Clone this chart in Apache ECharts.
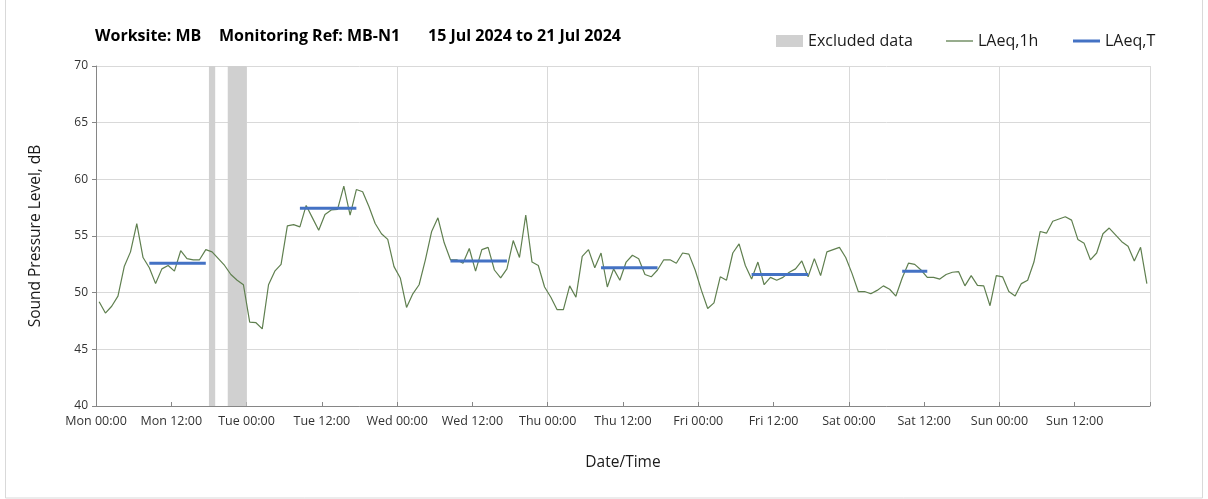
<!DOCTYPE html>
<html>
<head>
<meta charset="utf-8">
<script src="https://cdn.jsdelivr.net/npm/echarts@6/dist/echarts.min.js"></script>
<style>
html,body{margin:0;padding:0;background:#fff;}
#chart{width:1208px;height:499px;}
</style>
</head>
<body>
<div id="chart"></div>
<script>
// Hourly LAeq,1h values (dB), Mon 00:00 .. Sun 23:00
var laeq1hMon = [49.2,48.2,48.8,49.7,52.3,53.6,56.1,53.1,52.2,50.8,52.1,52.4,51.9,53.7,53.0,52.9,52.9,53.8,53.6,53.0,52.4,51.6,51.1,50.7];
var laeq1hTue = [47.4,47.35,46.8,50.7,51.9,52.5,55.9,56.0,55.8,57.7,56.6,55.5,56.9,57.3,57.35,59.4,56.85,59.1,58.9,57.6,56.1,55.2,54.7,52.3];
var laeq1hWed = [51.3,48.7,49.9,50.7,52.9,55.4,56.6,54.4,52.9,52.9,52.6,53.9,51.9,53.8,54.0,52.0,51.3,52.1,54.6,53.1,56.85,52.7,52.4,50.5];
var laeq1hThu = [49.6,48.5,48.5,50.6,49.6,53.2,53.8,52.2,53.5,50.5,52.1,51.1,52.7,53.3,53.0,51.6,51.4,52.0,52.9,52.9,52.6,53.5,53.4,52.0];
var laeq1hFri = [50.2,48.6,49.1,51.4,51.1,53.5,54.3,52.4,51.2,52.7,50.7,51.35,51.1,51.35,51.8,52.1,52.8,51.4,53.0,51.5,53.6,53.8,54.0,53.1];
var laeq1hSat = [51.7,50.1,50.1,49.9,50.2,50.6,50.3,49.7,51.3,52.6,52.5,52.0,51.35,51.35,51.2,51.6,51.8,51.85,50.6,51.5,50.65,50.6,48.85,51.5];
var laeq1hSun = [51.4,50.1,49.7,50.8,51.1,52.7,55.4,55.25,56.3,56.5,56.7,56.4,54.7,54.35,52.9,53.5,55.2,55.7,55.1,54.5,54.1,52.8,54.0,50.8];

// LAeq,T periods: first and last hour index, and level
var periodStartHour = [8, 32, 56, 80, 104, 128];
var periodEndHour   = [17, 41, 65, 89, 113, 132];
var periodLevel     = [52.6, 57.45, 52.8, 52.2, 51.6, 51.9];

// Excluded data (hours from Mon 00:00)
var excludedStart = [18, 21];
var excludedEnd   = [19, 24];

// Axis tick labels (every 12 h)
var xTickLabels = ['Mon 00:00','Mon 12:00','Tue 00:00','Tue 12:00','Wed 00:00','Wed 12:00','Thu 00:00','Thu 12:00','Fri 00:00','Fri 12:00','Sat 00:00','Sat 12:00','Sun 00:00','Sun 12:00',''];

var titleParts = ['Worksite: MB', 'Monitoring Ref: MB-N1', '15 Jul 2024 to 21 Jul 2024'];
var legendNames = ['Excluded data', 'LAeq,1h', 'LAeq,T'];

var hourly = [].concat(laeq1hMon, laeq1hTue, laeq1hWed, laeq1hThu, laeq1hFri, laeq1hSat, laeq1hSun);
var hourlyData = hourly.map(function (v, i) { return [i + 0.5, v]; });

var FONT = 'Open Sans';
var series = [];

series.push({
  name: legendNames[0], type: 'line', data: [], z: 1,
  color: '#d0d0d0', itemStyle: { color: '#d0d0d0' }, symbol: 'none',
  markArea: {
    silent: true,
    itemStyle: { color: '#d0d0d0' },
    data: excludedStart.map(function (s, i) { return [{ xAxis: s }, { xAxis: excludedEnd[i] }]; })
  }
});

series.push({
  name: legendNames[1], type: 'line', data: hourlyData, z: 3,
  symbol: 'none', color: '#5f7f4f',
  lineStyle: { color: '#5f7f4f', width: 1.2 }
});

periodStartHour.forEach(function (s, i) {
  series.push({
    name: legendNames[2], type: 'line', z: 4, symbol: 'none', color: '#4472c4',
    lineStyle: { color: '#4472c4', width: 3 },
    data: [[s + 0.5, periodLevel[i]], [periodEndHour[i] + 0.5, periodLevel[i]]]
  });
});

function legendItem(name, left, h) {
  return {
    left: left, top: 33, padding: 0, itemWidth: 27, itemHeight: h,
    icon: 'rect', selectedMode: false,
    textStyle: { fontFamily: FONT, fontSize: 16, color: '#1a1a1a' },
    data: [name]
  };
}

var chart = echarts.init(document.getElementById('chart'), null, { renderer: 'canvas' });
chart.setOption({
  animation: false,
  textStyle: { fontFamily: FONT },
  grid: { left: 96, right: 58, top: 66, bottom: 93 },
  legend: [
    legendItem(legendNames[0], 776, 12),
    legendItem(legendNames[1], 946, 1.3),
    legendItem(legendNames[2], 1073, 3)
  ],
  graphic: [
    { type: 'rect', silent: true, shape: { x: 5.5, y: -2, width: 1197, height: 500 },
      style: { fill: 'none', stroke: '#d9d9d9', lineWidth: 1 } },
    { type: 'text', left: 95, top: 28, style: { text: titleParts[0], font: 'bold 16px "Open Sans"', fill: '#000' } },
    { type: 'text', left: 219, top: 28, style: { text: titleParts[1], font: 'bold 16px "Open Sans"', fill: '#000' } },
    { type: 'text', left: 428, top: 28, style: { text: titleParts[2], font: 'bold 16px "Open Sans"', fill: '#000' } }
  ],
  xAxis: [{
    type: 'value', min: 0, max: 168, interval: 12,
    name: 'Date/Time', nameLocation: 'middle', nameGap: 49,
    nameTextStyle: { fontSize: 15.5, color: '#1a1a1a', fontFamily: FONT },
    axisLine: { lineStyle: { color: '#868686' } },
    axisTick: { inside: true, length: 4, lineStyle: { color: '#868686' } },
    axisLabel: { fontSize: 12.5, color: '#333', margin: 9, fontFamily: FONT,
      formatter: function (v) { return xTickLabels[Math.round(v / 12)] || ''; } },
    splitLine: { show: false }
  }, {
    type: 'value', min: 0, max: 168, interval: 24, position: 'bottom',
    axisLine: { show: false }, axisTick: { show: false }, axisLabel: { show: false },
    splitLine: { show: true, lineStyle: { color: '#d9d9d9', width: 1 } }
  }],
  yAxis: {
    type: 'value', min: 40, max: 70, interval: 5,
    name: 'Sound Pressure Level, dB', nameLocation: 'middle', nameGap: 52,
    nameTextStyle: { fontSize: 15.5, color: '#1a1a1a', fontFamily: FONT },
    axisLine: { show: true, lineStyle: { color: '#868686' } },
    axisTick: { show: true, length: 4, lineStyle: { color: '#868686' } },
    axisLabel: { fontSize: 12, color: '#333', margin: 8, fontFamily: FONT },
    splitLine: { lineStyle: { color: '#d9d9d9', width: 1 } }
  },
  series: series
});
</script>
</body>
</html>
